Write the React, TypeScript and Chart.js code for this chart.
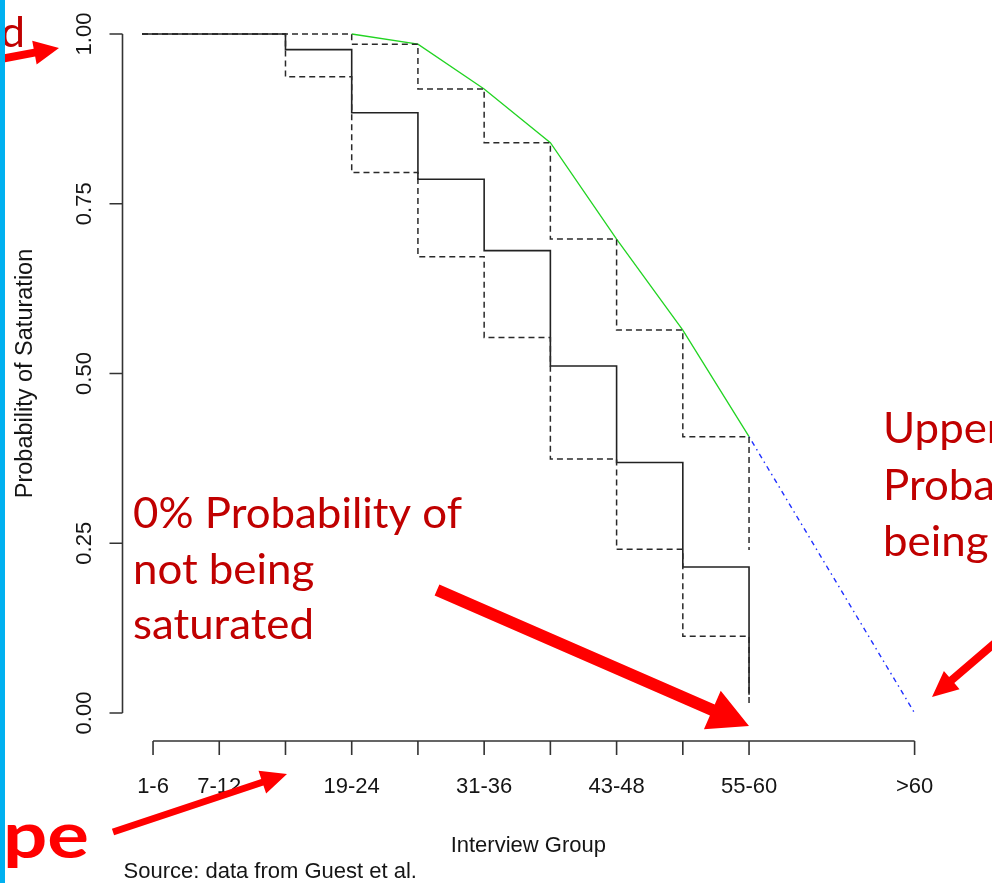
import React, { useEffect, useRef } from 'react';
import { Chart, registerables } from 'chart.js';

Chart.register(...registerables);

// ---- tick labels ----
const xTickValues = [1, 7, 13, 19, 25, 31, 37, 43, 49, 55, 70];
const xTickLabels = ['1-6', '7-12', '', '19-24', '', '31-36', '', '43-48', '', '55-60', '>60'];
const yTickValues = [0, 0.25, 0.5, 0.75, 1];
const yTickLabels = ['0.00', '0.25', '0.50', '0.75', '1.00'];

// ---- series (x = interview number) ----
const stepTimes = [0, 13, 19, 25, 31, 37, 43, 49, 55];
const survival = [1, 0.977, 0.884, 0.786, 0.681, 0.511, 0.369, 0.215, 0.027];
const upperCI = [1, 1, 0.985, 0.919, 0.84, 0.698, 0.564, 0.407, 0.24];
const lowerCI = [1, 0.937, 0.796, 0.672, 0.553, 0.374, 0.241, 0.113, 0.009];
const upperLineTimes = [19, 25, 31, 37, 43, 49, 55];
const upperLineValues = [1, 0.985, 0.919, 0.84, 0.698, 0.564, 0.407];
const extrapTimes = [55, 70];
const extrapValues = [0.407, 0];

const xTitle = 'Interview Group';
const yTitle = 'Probability of Saturation';
const sourceNote = 'Source: data from Guest et al.';
const leftNote = ['0% Probability of', 'not being', 'saturated'];
const rightNote = ['Upper', 'Proba', 'being'];

const pts = (xs: number[], ys: number[]) => xs.map((x, i) => ({ x, y: ys[i] }));

const AXIS_FONT = '22px "Liberation Sans", Arial, sans-serif';
const YTITLE_FONT = '23.5px "Liberation Sans", Arial, sans-serif';
const NOTE_FONT = '42px Lato, "Open Sans", sans-serif';

function arrow(ctx: CanvasRenderingContext2D, x1: number, y1: number, x2: number, y2: number, shaft: number, headLen: number, headHalf: number) {
  const dx = x2 - x1, dy = y2 - y1;
  const L = Math.hypot(dx, dy);
  const ux = dx / L, uy = dy / L;
  const nx = -uy, ny = ux;
  const bx = x2 - ux * headLen, by = y2 - uy * headLen;
  const s = shaft / 2;
  ctx.beginPath();
  ctx.moveTo(x1 + nx * s, y1 + ny * s);
  ctx.lineTo(bx + nx * s, by + ny * s);
  ctx.lineTo(bx + nx * headHalf, by + ny * headHalf);
  ctx.lineTo(x2, y2);
  ctx.lineTo(bx - nx * headHalf, by - ny * headHalf);
  ctx.lineTo(bx - nx * s, by - ny * s);
  ctx.lineTo(x1 - nx * s, y1 - ny * s);
  ctx.closePath();
  ctx.fill();
}

const bgPlugin = {
  id: 'bg',
  beforeDraw(chart: any) {
    const { ctx, width, height } = chart;
    ctx.save();
    ctx.fillStyle = '#ffffff';
    ctx.fillRect(0, 0, width, height);
    ctx.restore();
  },
};

const axesPlugin = {
  id: 'rAxes',
  afterDatasetsDraw(chart: any) {
    const { ctx, chartArea, scales } = chart;
    const xs = scales.x, ys = scales.y;
    ctx.save();
    ctx.strokeStyle = '#333333';
    ctx.lineWidth = 1.6;
    ctx.fillStyle = '#151515';
    ctx.font = AXIS_FONT;

    // y axis
    const ax = chartArea.left - 19.5;
    const yTop = ys.getPixelForValue(yTickValues[yTickValues.length - 1]);
    const yBot = ys.getPixelForValue(yTickValues[0]);
    ctx.beginPath();
    ctx.moveTo(ax, yTop);
    ctx.lineTo(ax, yBot);
    yTickValues.forEach((v) => {
      const p = ys.getPixelForValue(v);
      ctx.moveTo(ax, p);
      ctx.lineTo(ax - 13, p);
    });
    ctx.stroke();
    ctx.textAlign = 'center';
    ctx.textBaseline = 'alphabetic';
    yTickValues.forEach((v, i) => {
      const p = ys.getPixelForValue(v);
      ctx.save();
      ctx.translate(ax - 32, p);
      ctx.rotate(-Math.PI / 2);
      ctx.fillText(yTickLabels[i], 0, 0);
      ctx.restore();
    });
    ctx.save();
    ctx.font = YTITLE_FONT;
    ctx.translate(31.5, (yTop + yBot) / 2);
    ctx.rotate(-Math.PI / 2);
    ctx.fillText(yTitle, 0, 0);
    ctx.restore();

    // x axis
    const ay = chartArea.bottom + 28;
    const xL = xs.getPixelForValue(xTickValues[0]);
    const xR = xs.getPixelForValue(xTickValues[xTickValues.length - 1]);
    ctx.beginPath();
    ctx.moveTo(xL, ay);
    ctx.lineTo(xR, ay);
    xTickValues.forEach((v) => {
      const p = xs.getPixelForValue(v);
      ctx.moveTo(p, ay);
      ctx.lineTo(p, ay + 14);
    });
    ctx.stroke();
    xTickValues.forEach((v, i) => {
      if (!xTickLabels[i]) return;
      ctx.fillText(xTickLabels[i], xs.getPixelForValue(v), ay + 52);
    });
    ctx.fillText(xTitle, (chartArea.left + chartArea.right) / 2, ay + 111);
    ctx.textAlign = 'left';
    ctx.fillText(sourceNote, ax + 1, ay + 137);
    ctx.restore();
  },
};

const notesPlugin = {
  id: 'notes',
  afterDraw(chart: any) {
    const { ctx } = chart;
    ctx.save();
    ctx.font = NOTE_FONT;
    ctx.textAlign = 'left';
    ctx.textBaseline = 'alphabetic';
    const sx = 329 / ctx.measureText(leftNote[0]).width;
    ctx.fillStyle = '#C00000';
    const drawLines = (lines: string[], x: number, y0: number, lh: number) => {
      lines.forEach((t, i) => {
        ctx.save();
        ctx.translate(x, y0 + i * lh);
        ctx.scale(sx, 1);
        ctx.fillText(t, 0, 0);
        ctx.restore();
      });
    };
    drawLines(leftNote, 133, 528, 55.5);
    drawLines(rightNote, 883, 443, 56.5);
    // cut-off fragments
    ctx.save();
    ctx.translate(25, 47);
    ctx.scale(sx, 1);
    ctx.textAlign = 'right';
    ctx.fillText('d', 0, 0);
    ctx.restore();
    ctx.fillStyle = '#FF0000';
    ctx.save();
    ctx.font = 'bold 64px Lato, "Open Sans", sans-serif';
    const pw = ctx.measureText('pe').width;
    ctx.translate(89, 858);
    ctx.scale(86 / pw, 1);
    ctx.textAlign = 'right';
    ctx.fillText('pe', 0, 0);
    ctx.restore();

    // arrows
    arrow(ctx, 437, 590, 749, 726, 12, 40, 21);
    arrow(ctx, 113, 832, 287, 774, 7, 26, 12);
    arrow(ctx, -5, 60, 59, 48, 8, 25, 12);
    arrow(ctx, 1010, 630, 932, 697, 8, 26, 12);

    // left blue bar
    ctx.fillStyle = '#00B0F0';
    ctx.fillRect(0, 0, 5, chart.height);
    ctx.restore();
  },
};

export default function App() {
  const ref = useRef<HTMLCanvasElement>(null);
  useEffect(() => {
    const canvas = ref.current!;
    const chart = new Chart(canvas, {
      type: 'line',
      data: {
        datasets: [
          {
            label: 'Upper CI',
            data: pts(stepTimes, upperCI),
            stepped: true,
            borderColor: '#2a2a2a',
            borderWidth: 1.5,
            borderDash: [6, 4],
            clip: false as any,
          },
          {
            label: 'Lower CI',
            data: pts(stepTimes, lowerCI),
            stepped: true,
            borderColor: '#2a2a2a',
            borderWidth: 1.5,
            borderDash: [6, 4],
            clip: false as any,
          },
          {
            label: 'Survival',
            data: pts(stepTimes, survival),
            stepped: true,
            borderColor: '#222222',
            borderWidth: 1.6,
            clip: false as any,
          },
          {
            label: 'Upper bound',
            data: pts(upperLineTimes, upperLineValues),
            borderColor: '#22d422',
            borderWidth: 1.3,
            clip: false as any,
          },
          {
            label: 'Extrapolation',
            data: pts(extrapTimes, extrapValues),
            borderColor: '#2030ff',
            borderWidth: 1.4,
            borderDash: [1.5, 4, 5, 4],
            clip: false as any,
          },
        ],
      },
      options: {
        responsive: false,
        animation: false,
        devicePixelRatio: 1,
        layout: { padding: { left: 142, right: 77.4, top: 34, bottom: 170 } },
        scales: {
          x: { type: 'linear', min: 0, max: 70, display: false },
          y: { type: 'linear', min: 0, max: 1, display: false },
        },
        elements: { point: { radius: 0 }, line: { tension: 0 } },
        plugins: { legend: { display: false }, tooltip: { enabled: false } },
      },
      plugins: [bgPlugin, axesPlugin, notesPlugin],
    });
    return () => chart.destroy();
  }, []);
  return (
    <div style={{ position: 'absolute', left: 0, top: 0, width: 992, height: 883 }}>
      <canvas ref={ref} width={992} height={883} style={{ display: 'block' }} />
    </div>
  );
}
